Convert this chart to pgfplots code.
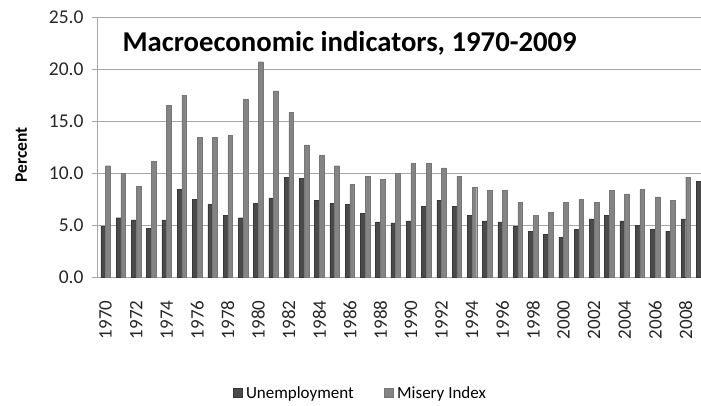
\documentclass[border=0pt]{standalone}
\usepackage{fontspec}
\setmainfont{Carlito}
\usepackage{pgfplots}
\pgfplotsset{compat=1.18}
\usepackage{pgfplotstable}
\definecolor{unemp}{HTML}{4A4A4A}
\definecolor{unempedge}{HTML}{383838}
\definecolor{misery}{HTML}{848484}
\definecolor{miseryedge}{HTML}{767676}
\definecolor{axisgray}{HTML}{A6A6A6}
\pgfplotsset{
  sqlegend/.style={legend image code/.code={\fill[##1] (0pt,-4.5pt) rectangle (9pt,4.5pt); \path (11pt,0pt);}},
}
\pgfplotstableread{
idx unemp misery
0 4.9 10.7
1 5.7 10.0
2 5.5 8.7
3 4.7 11.1
4 5.5 16.5
5 8.4 17.5
6 7.5 13.4
7 7.0 13.4
8 5.9 13.6
9 5.7 17.1
10 7.1 20.7
11 7.6 17.9
12 9.6 15.8
13 9.5 12.7
14 7.4 11.7
15 7.1 10.7
16 7.0 8.9
17 6.1 9.7
18 5.3 9.4
19 5.2 10.0
20 5.4 10.9
21 6.8 10.9
22 7.4 10.5
23 6.8 9.7
24 5.9 8.6
25 5.4 8.3
26 5.3 8.3
27 4.9 7.2
28 4.4 5.9
29 4.1 6.2
30 3.8 7.2
31 4.6 7.5
32 5.6 7.2
33 5.9 8.3
34 5.4 8.0
35 5.0 8.4
36 4.6 7.7
37 4.4 7.4
38 5.6 9.6
39 9.2 8.9
}\datatable
\begin{document}
\begin{tikzpicture}
\begin{axis}[
  name=ax,
  width=603pt, height=260pt, scale only axis,
  ybar=0pt, bar width=0.31,
  xmin=-0.5, xmax=39, ymin=0, ymax=25,
  axis x line=bottom, axis y line=left,
  axis line style={-, axisgray, line width=1pt},
  ytick={0,5,10,15,20,25},
  /pgf/number format/fixed, /pgf/number format/fixed zerofill, /pgf/number format/precision=1,
  /pgf/number format/assume math mode=true,
  yticklabel style={font=\fontsize{19.5}{22}\selectfont, text=black!85, xshift=-5pt},
  ymajorgrids, grid style={axisgray, line width=1pt},
  major tick style={axisgray, line width=1pt},
  minor tick style={axisgray, line width=1pt},
  tick align=outside,
  major tick length=6pt, minor tick length=6pt,
  xtick={0,2,...,38},
  xticklabels={1970,1972,1974,1976,1978,1980,1982,1984,1986,1988,1990,1992,1994,1996,1998,2000,2002,2004,2006,2008},
  x tick style={draw=none},
  xticklabel style={rotate=90, anchor=east, font=\fontsize{19}{22}\selectfont, text=black!85, xshift=-14pt},
  minor xtick={-0.5,0.5,...,38.5},
  ylabel={Percent},
  ylabel shift=15pt,
  ylabel style={font=\bfseries\fontsize{17.5}{20}\selectfont, xshift=-8pt},
  legend style={at={(0.435,-0.446)}, anchor=center, draw=none, fill=none, legend columns=2,
    font=\fontsize{17}{20}\selectfont, /tikz/every even column/.append style={column sep=28pt}},
  sqlegend,
  clip=true,
]
\addplot[fill=unemp, draw=unempedge] table[x=idx, y=unemp] {\datatable};
\addplot[fill=misery, draw=miseryedge] table[x=idx, y=misery] {\datatable};
\legend{Unemployment, Misery Index}
\node[anchor=west, font=\bfseries\fontsize{28.7}{32}\selectfont] at (rel axis cs:0.035,0.9) {Macroeconomic indicators, 1970-2009};
\end{axis}
\pgfresetboundingbox
\path[use as bounding box] ([xshift=-98pt,yshift=-128pt]ax.south west) rectangle ([yshift=17pt]ax.north east);
\end{tikzpicture}
\end{document}
